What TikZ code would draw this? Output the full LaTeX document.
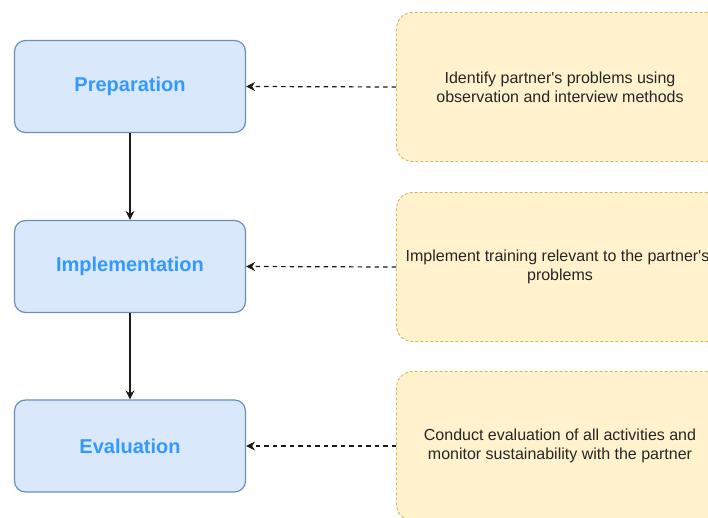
\documentclass[tikz,border=0pt]{standalone}
\usepackage{fontspec}
\setmainfont{Liberation Sans}
\usetikzlibrary{shapes}
\usetikzlibrary{arrows.meta}

\definecolor{stagefill}{HTML}{DAE8FC}
\definecolor{stageline}{HTML}{6C8EBF}
\definecolor{stagetext}{HTML}{3399FF}
\definecolor{notefill}{HTML}{FFF2CC}
\definecolor{noteline}{HTML}{D6B656}
\definecolor{linkline}{HTML}{1A1A1A}

\begin{document}
\begin{tikzpicture}[x=1pt, y=-1pt, >={Stealth[length=9pt, width=9pt, inset=3pt]},
  stage/.style={draw=stageline, fill=stagefill, line width=1.2pt, rounded corners=11pt,
    minimum width=231pt, minimum height=92pt, inner sep=0pt,
    text=stagetext, font=\fontsize{20}{24}\selectfont\bfseries},
  note/.style={draw=noteline, fill=notefill, line width=0.9pt, rounded corners=16pt,
    dash pattern=on 3pt off 2pt, minimum width=327pt, minimum height=149pt, inner sep=0pt,
    align=center, text=black!85, font=\fontsize{16}{19}\selectfont},
  flow/.style={->, line width=1.2pt, linkline},
  hint/.style={->, line width=1.2pt, linkline, dash pattern=on 4.5pt off 4pt}]

 \path[use as bounding box] (0,0) rectangle (708,518);
 \clip (0,0) rectangle (708,518);

 % stages on the left
 \node[stage] (Prep) at (130,86.5) {Preparation};
 \node[stage] (Impl) at (130,266.5) {Implementation};
 \node[stage] (Eval) at (130,446) {Evaluation};

 % notes on the right
 \node[note] (PrepNote) at (560,87)
   {Identify partner\textquotesingle s problems using\\observation and interview methods};
 \node[note] (ImplNote) at (560,267)
   {\hspace*{-5pt}Implement training relevant to the partner\textquotesingle s\\problems};
 \node[note] (EvalNote) at (560,446)
   {Conduct evaluation of all activities and\\monitor sustainability with the partner};

 \draw[flow] (Prep) -- (Impl);
 \draw[flow] (Impl) -- (Eval);

 \draw[hint] (PrepNote.west) -- (Prep.east);
 \draw[hint] (ImplNote.west) -- (Impl.east);
 \draw[hint] (EvalNote.west) -- (Eval.east);

\end{tikzpicture}
\end{document}
